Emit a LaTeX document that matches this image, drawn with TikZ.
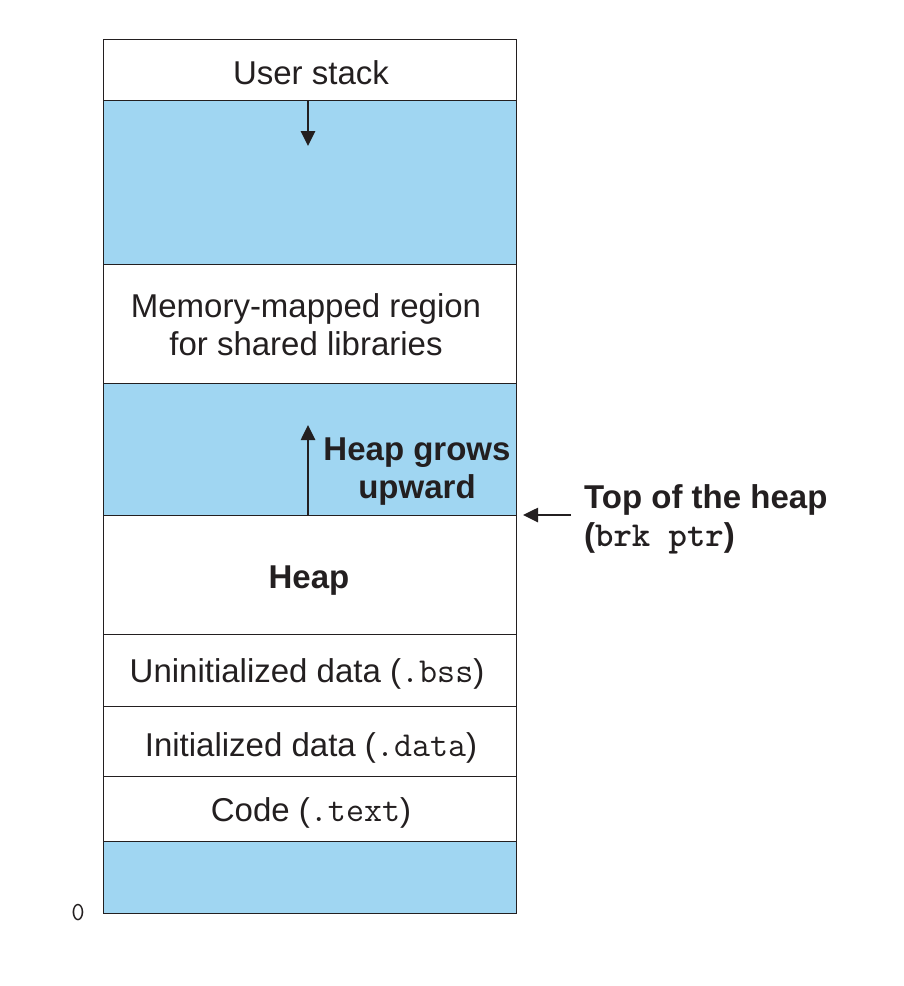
\documentclass[tikz,border=0pt]{standalone}
\usepackage{fontspec}
\setmainfont{Liberation Sans}
\usetikzlibrary{arrows.meta}
\definecolor{segblue}{RGB}{160,214,242}
\definecolor{ink}{RGB}{35,31,32}
\newcommand{\mymono}[1]{{\fontsize{35}{38}\selectfont\ttfamily #1}}
\tikzset{
  segline/.style={draw=ink, line width=1pt},
  lbl/.style={font=\fontsize{33}{38}\selectfont, text=ink, align=center, inner sep=0pt},
  blbl/.style={font=\fontsize{33}{38}\selectfont\bfseries, text=ink, align=center, inner sep=0pt},
  arr/.style={draw=ink, line width=2.6pt, -{Triangle[length=15pt,width=14pt]}}
}
\begin{document}
\begin{tikzpicture}[x=1pt,y=-1pt]
\useasboundingbox (0,0) rectangle (904,986);
% segments
\fill[segblue] (103,100) rectangle (516,264);
\fill[segblue] (103,383) rectangle (516,515);
\fill[segblue] (103,841) rectangle (516,913);
\draw[segline] (103,39) rectangle (516,913);
\foreach \yy in {100,264,383,515,634,706,776,841} \draw[segline] (103,\yy) -- (516,\yy);
% labels
\node[lbl] (us) at (311,73) {User stack};
\node[lbl] (mm) at (306,325) {Memory-mapped region\\for shared libraries};
\node[blbl] (hg) at (417,472) {Heap grows\\upward};
\node[blbl] (hp) at (309,581) {Heap};
\node[lbl] (ud) at (307,674) {Uninitialized data (\mymono{.bss})};
\node[lbl] (id) at (311,748) {Initialized data (\mymono{.data})};
\node[lbl] (cd) at (311,813) {Code (\mymono{.text})};
\node[lbl, font=\fontsize{26}{30}\selectfont\ttfamily] (zero) at (78,913) {0};
\node[blbl, anchor=west, align=left] (top) at (584,519) {Top of the heap\\(\mymono{brk ptr})};
% arrows
\coordinate (s1) at (308,100); \coordinate (s2) at (308,146);
\coordinate (h1) at (308,515); \coordinate (h2) at (308,425);
\coordinate (t1) at (571,515); \coordinate (t2) at (523,515);
\draw[arr] (s1) -- (s2);
\draw[arr] (h1) -- (h2);
\draw[arr] (t1) -- (t2);
\end{tikzpicture}
\end{document}
